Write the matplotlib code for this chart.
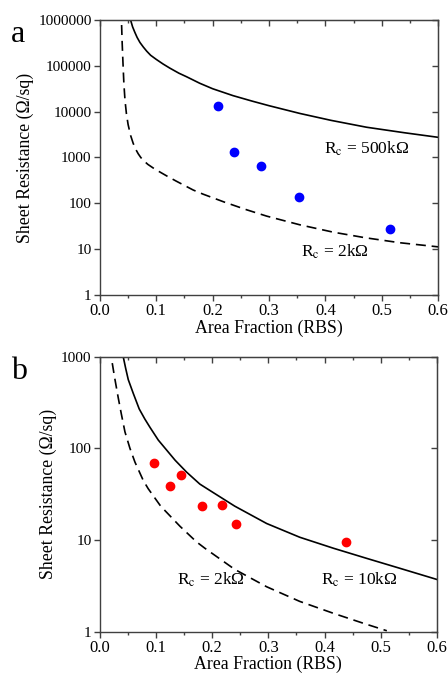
import numpy as np
import matplotlib
matplotlib.use('Agg')
import matplotlib.pyplot as plt
from matplotlib.ticker import FixedLocator, MultipleLocator, NullLocator, FuncFormatter

plt.rcParams['font.family'] = ['Liberation Serif', 'DejaVu Serif']
plt.rcParams['mathtext.fontset'] = 'stix'

# panel a: measured points
a_frac = [0.210, 0.238, 0.285, 0.353, 0.515]
a_rs = [13500, 1340, 665, 135, 27]

# panel a: Rc = 500 kOhm curve (log10 of Rs)
a_hi_x = [0.0544, 0.058, 0.062, 0.066, 0.071, 0.077, 0.083, 0.09, 0.1, 0.112, 0.124, 0.14, 0.154,
          0.177, 0.2, 0.236, 0.27, 0.3, 0.355, 0.41, 0.473, 0.54, 0.6]
a_hi_log = [6.0, 5.85, 5.73, 5.62, 5.51, 5.41, 5.32, 5.23, 5.14, 5.04, 4.95, 4.84, 4.76,
            4.62, 4.5, 4.35, 4.23, 4.13, 3.96, 3.81, 3.66, 3.54, 3.44]

# panel a: Rc = 2 kOhm curve
a_lo_x = [0.0385, 0.0395, 0.0408, 0.0425, 0.0445, 0.047, 0.050, 0.0545, 0.059, 0.0635, 0.068, 0.0725,
          0.0768, 0.085, 0.0946, 0.1005, 0.121, 0.136, 0.1655, 0.183, 0.22, 0.26, 0.296, 0.355, 0.414,
          0.47, 0.532, 0.6]
a_lo_log = [5.89, 5.5, 5.1, 4.62, 4.25, 3.96, 3.72, 3.48, 3.31, 3.18, 3.08, 3.0,
            2.94, 2.85, 2.77, 2.725, 2.58, 2.48, 2.29, 2.2, 2.03, 1.86, 1.72, 1.53, 1.37,
            1.25, 1.14, 1.05]

# panel b: measured points
b_frac = [0.097, 0.125, 0.145, 0.181, 0.217, 0.243, 0.438]
b_rs = [70, 38.8, 51.6, 23.5, 24.3, 15, 9.5]

# panel b: Rc = 10 kOhm curve
b_hi_x = [0.0415, 0.046, 0.0505, 0.0594, 0.07, 0.08, 0.0891, 0.104, 0.119, 0.134, 0.1545, 0.178,
          0.196, 0.24, 0.297, 0.356, 0.416, 0.475, 0.535, 0.6]
b_hi_log = [3.0, 2.87, 2.75, 2.6, 2.43, 2.32, 2.23, 2.09, 1.98, 1.87, 1.74, 1.61,
            1.54, 1.37, 1.18, 1.03, 0.91, 0.80, 0.69, 0.57]

# panel b: Rc = 2 kOhm curve
b_lo_x = [0.022, 0.026, 0.0327, 0.038, 0.0446, 0.0535, 0.0624, 0.0772, 0.086, 0.107, 0.116, 0.1426,
          0.172, 0.187, 0.24, 0.297, 0.356, 0.416, 0.47, 0.511]
b_lo_log = [2.93, 2.78, 2.55, 2.38, 2.18, 2.0, 1.85, 1.65, 1.56, 1.38, 1.32, 1.15,
            0.98, 0.91, 0.68, 0.49, 0.33, 0.20, 0.09, 0.01]

a_ticks = [1, 10, 100, 1000, 10000, 100000, 1000000]
b_ticks = [1, 10, 100, 1000]

fig = plt.figure(figsize=(4.48, 6.73), dpi=100)
ax1 = fig.add_axes([0.223, 0.5617, 0.755, 0.4086])
ax2 = fig.add_axes([0.223, 0.0614, 0.752, 0.4086])

axcol = '#404040'


def style(ax, ticks):
    ax.set_yscale('log')
    ax.set_xlim(0, 0.6)
    ax.set_ylim(ticks[0], ticks[-1])
    ax.yaxis.set_major_locator(FixedLocator(ticks))
    ax.yaxis.set_minor_locator(NullLocator())
    ax.yaxis.set_major_formatter(FuncFormatter(lambda v, p: '%d' % round(v)))
    ax.xaxis.set_major_locator(MultipleLocator(0.1))
    ax.xaxis.set_minor_locator(MultipleLocator(0.05))
    ax.xaxis.set_major_formatter(FuncFormatter(lambda v, p: '%.1f' % v))
    for s in ax.spines.values():
        s.set_color(axcol)
        s.set_linewidth(1.0)
    ax.tick_params(which='major', direction='out', length=4, width=1, color=axcol, pad=2)
    ax.tick_params(axis='x', labelsize=12)
    ax.tick_params(axis='y', labelsize=11)
    ax.tick_params(which='minor', direction='out', length=2.5, width=1, color=axcol)
    # inward ticks on top and right
    top = ax.secondary_xaxis('top')
    top.xaxis.set_major_locator(MultipleLocator(0.1))
    top.xaxis.set_minor_locator(MultipleLocator(0.05))
    top.tick_params(which='major', direction='in', length=4, width=1, color=axcol, labeltop=False)
    top.tick_params(which='minor', direction='in', length=2.5, width=1, color=axcol)
    top.spines['top'].set_color(axcol)
    right = ax.secondary_yaxis('right')
    right.yaxis.set_major_locator(FixedLocator(ticks))
    right.yaxis.set_minor_locator(NullLocator())
    right.tick_params(which='major', direction='in', length=4, width=1, color=axcol, labelright=False)
    right.spines['right'].set_color(axcol)
    ax.set_xlabel('Area Fraction (RBS)', fontsize=12.8, labelpad=0)
    ax.set_ylabel('Sheet Resistance (\u03a9/sq)', fontsize=12.8, labelpad=3)


style(ax1, a_ticks)
style(ax2, b_ticks)

dash = (0, (6, 3.5))
ax1.plot(a_hi_x, 10 ** np.array(a_hi_log), color='black', lw=1.2)
ax1.plot(a_lo_x, 10 ** np.array(a_lo_log), color='black', lw=1.2, ls=dash)
ax1.plot(a_frac, a_rs, 'o', color='#0000ff', ms=6, zorder=3)
ax1.text(0.397, 1.2e3, 'R$_\\mathrm{c}$ = 500k\u03a9', fontsize=12.5)
ax1.text(0.357, 7.0, 'R$_\\mathrm{c}$ = 2k\u03a9', fontsize=12.5)

ax2.plot(b_hi_x, 10 ** np.array(b_hi_log), color='black', lw=1.2)
ax2.plot(b_lo_x, 10 ** np.array(b_lo_log), color='black', lw=1.2, ls=dash)
ax2.plot(b_frac, b_rs, 'o', color='#ff0000', ms=6, zorder=3)
ax2.text(0.137, 3.3, 'R$_\\mathrm{c}$ = 2k\u03a9', fontsize=12.5)
ax2.text(0.393, 3.3, 'R$_\\mathrm{c}$ = 10k\u03a9', fontsize=12.5)

fig.text(0.025, 0.948, 'a', fontsize=23, va='center')
fig.text(0.025, 0.448, 'b', fontsize=23, va='center')

fig.savefig('out.png', dpi=100)
